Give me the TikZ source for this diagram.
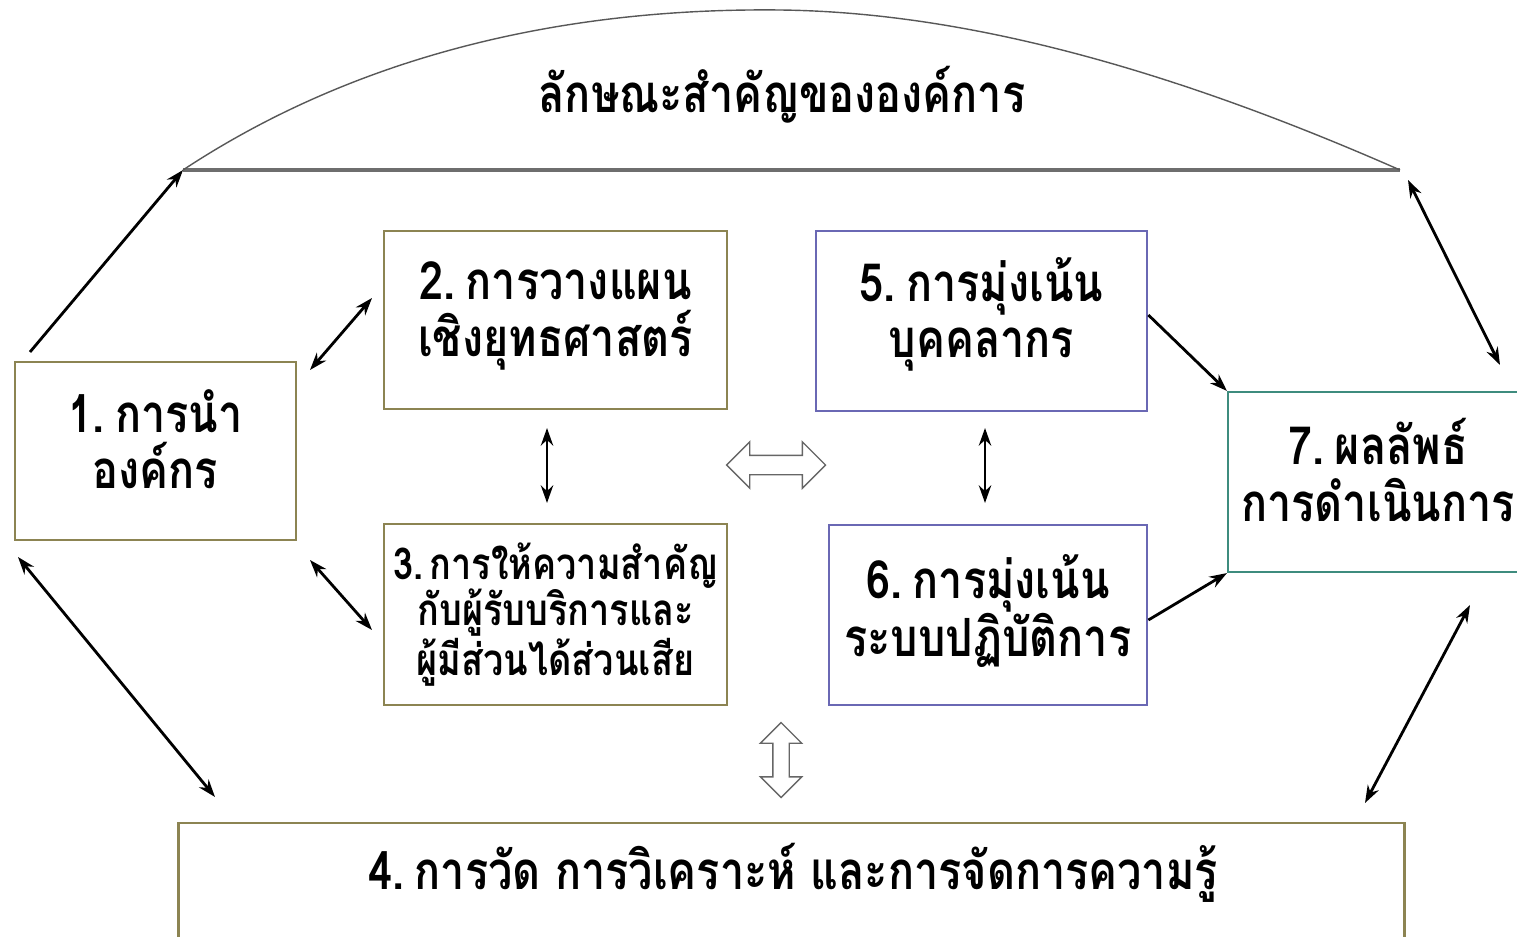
\documentclass[tikz,border=0pt]{standalone}
\usepackage{fontspec}
\usetikzlibrary{arrows.meta,shapes.arrows}
\newfontfamily\thaifont[Script=Thai,FakeStretch=0.82]{Loma}
\definecolor{oliveb}{HTML}{8C8452}
\definecolor{blueb}{HTML}{6A68B4}
\definecolor{tealb}{HTML}{3E8C7E}
\definecolor{hillgray}{HTML}{6E6E6E}
\tikzset{
  boxo/.style={draw=oliveb, line width=1.6pt, fill=white, align=center, inner sep=0pt},
  boxb/.style={draw=blueb, line width=1.6pt, fill=white, align=center, inner sep=0pt},
  boxt/.style={draw=tealb, line width=1.2pt, fill=white, align=center, inner sep=0pt},
  big/.style={font=\thaifont\bfseries\fontsize{30}{32}\selectfont},
  small/.style={font=\thaifont\bfseries\fontsize{25}{26}\selectfont},
  conn/.style={line width=1.6pt, -{Stealth[length=10pt,width=7pt]}},
  conn2/.style={line width=1.6pt, {Stealth[length=10pt,width=7pt]}-{Stealth[length=10pt,width=7pt]}},
  hollow/.style={shape=double arrow, draw=gray!80!black, fill=white, line width=0.8pt},
}
\begin{document}
\begin{tikzpicture}[x=0.02cm,y=-0.02cm]
\useasboundingbox (0,0) rectangle (1517,936);
\fill[white] (0,0) rectangle (1517,936);

% hill
\coordinate (hl) at (183,170);
\coordinate (hr) at (1400,170);
\draw[hillgray, line width=2.6pt] (hl) -- (hr);
\draw[hillgray!80!black, line width=0.8pt] (hl) .. controls (380,40) and (600,8) .. (780,10) .. controls (950,12) and (1150,60) .. (hr);
\node[big] (title) at (782,95) {ลักษณะสำคัญขององค์การ};

% boxes
\node[boxo, minimum width=5.62cm, minimum height=3.56cm,
  label={[big, align=center, yshift=0.24cm]center:1.\hspace{0.2em}การนำ\\องค์กร}] (b1) at (155.5,451) {};
\node[boxo, minimum width=6.86cm, minimum height=3.56cm,
  label={[big, align=center, yshift=0.08cm]center:2.\hspace{0.2em}การวางแผน\\เชิงยุทธศาสตร์}] (b2) at (555.5,320) {};
\node[boxo, small, minimum width=6.86cm, minimum height=3.62cm] (b3) at (555.5,614.5) {3.\hspace{0.15em}การให้ความสำคัญ\\กับผู้รับบริการและ\\ผู้มีส่วนได้ส่วนเสีย};
\node[boxb, minimum width=6.62cm, minimum height=3.6cm,
  label={[big, align=center, yshift=0.14cm]center:5.\hspace{0.2em}การมุ่งเน้น\\บุคคลากร}] (b5) at (981.5,321) {};
\node[boxb, minimum width=6.36cm, minimum height=3.6cm,
  label={[big, align=center, yshift=0.08cm]center:6.\hspace{0.2em}การมุ่งเน้น\\ระบบปฏิบัติการ}] (b6) at (988,615) {};
\node[boxt, minimum width=6cm, minimum height=3.6cm,
  label={[big, align=center, yshift=0.24cm]center:7.\hspace{0.2em}ผลลัพธ์\\การดำเนินการ}] (b7) at (1378,482) {};
\node[boxo, minimum width=24.54cm, minimum height=2.68cm] (b4) at (791.5,890) {};
\node[big] (t4) at (793,873) {4.\hspace{0.2em}การวัด การวิเคราะห์ และการจัดการความรู้};

% hollow arrows
\node[hollow, inner xsep=0pt, inner ysep=0.18cm, double arrow head extend=0.27cm, minimum height=1.98cm] (hx) at (776,465) {};
\node[hollow, inner ysep=0pt, inner xsep=0.15cm, double arrow head extend=0.25cm, minimum height=1.5cm, shape border rotate=90] (hv) at (781,760) {};

% connectors
\coordinate (a1s) at (30,352);
\draw[conn] (a1s) -- (hl);
\coordinate (c12a) at (310,370); \coordinate (c12b) at (372,298);
\draw[conn2] (c12a) -- (c12b);
\coordinate (c13a) at (310,560); \coordinate (c13b) at (372,630);
\draw[conn2] (c13a) -- (c13b);
\coordinate (c23a) at (547,428); \coordinate (c23b) at (547,503);
\draw[conn2] (c23a) -- (c23b);
\coordinate (c56a) at (985,428); \coordinate (c56b) at (985,503);
\draw[conn2] (c56a) -- (c56b);
\draw[conn] (b5.east |- 0,315) -- (b7.north west);
\draw[conn] (b6.east |- 0,620) -- (b7.south west);
\coordinate (tra) at (1408,180); \coordinate (trb) at (1500,365);
\draw[conn2] (tra) -- (trb);
\coordinate (c14a) at (18,557); \coordinate (c14b) at (215,797);
\draw[conn2] (c14a) -- (c14b);
\coordinate (c74a) at (1470,605); \coordinate (c74b) at (1365,803);
\draw[conn2] (c74a) -- (c74b);
\end{tikzpicture}
\end{document}
